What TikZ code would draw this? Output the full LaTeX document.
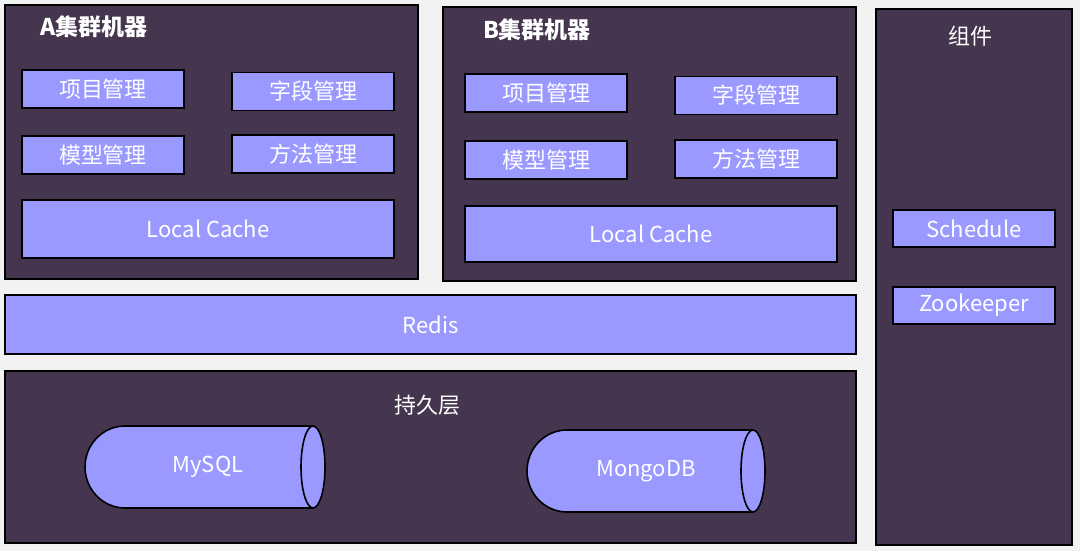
\documentclass[tikz,border=0pt]{standalone}
\usepackage{fontspec}
\setmainfont{Noto Sans CJK SC}
\definecolor{bgc}{HTML}{F2F2F2}
\definecolor{panelc}{HTML}{45354F}
\definecolor{boxc}{HTML}{9999FF}
\begin{document}
\begin{tikzpicture}[x=1pt,y=-1pt,
  panel/.style={draw=black,line width=1.2pt,fill=panelc},
  box/.style={draw=black,line width=1.8pt,fill=boxc,text=white,inner sep=0pt,font=\fontsize{22}{24}\selectfont},
  smallbox/.style={box,minimum width=162pt,minimum height=38pt},
  title/.style={text=white,font=\fontsize{23}{26}\selectfont\bfseries,inner sep=0pt},
  ptitle/.style={text=white,font=\fontsize{22}{24}\selectfont,inner sep=0pt},
  cyl/.style={draw=black,line width=1.6pt,fill=boxc},
  cyltext/.style={text=white,font=\fontsize{22}{24}\selectfont,inner sep=0pt}]
\fill[bgc] (0,0) rectangle (1080,551);
\useasboundingbox (0,0) rectangle (1080,551);
% panels
\draw[panel] (5,5) rectangle (418,279);
\draw[panel] (443,7) rectangle (856,281);
\draw[panel] (5,371) rectangle (856,543);
\draw[panel] (876,9) rectangle (1072,545);
% A
\node[title] (at) at (94,27) {A集群机器};
\node[smallbox] (a1) at (103,89) {项目管理};
\node[smallbox] (a2) at (313,91.5) {字段管理};
\node[smallbox] (a3) at (103,155) {模型管理};
\node[smallbox] (a4) at (313,154) {方法管理};
\node[box,minimum width=372pt,minimum height=58pt] (ac) at (208,229) {Local Cache};
% B
\node[title] (bt) at (537,30) {B集群机器};
\node[smallbox] (b1) at (546,93) {项目管理};
\node[smallbox] (b2) at (756,95.5) {字段管理};
\node[smallbox] (b3) at (546,160) {模型管理};
\node[smallbox] (b4) at (756,159) {方法管理};
\node[box,minimum width=372pt,minimum height=56pt] (bc) at (651,234) {Local Cache};
% Redis
\node[box,line width=1.2pt,minimum width=851pt,minimum height=59pt] (redis) at (430.5,324.5) {Redis};
% persistence
\node[ptitle] (pt) at (427,405) {持久层};
\draw[cyl] (313,426) -- (125,426) arc[start angle=-90,end angle=-270,x radius=40,y radius=41] -- (313,508);
\draw[cyl] (313,467) ellipse[x radius=12,y radius=41];
\node[cyltext] (mysql) at (208,467) {MySQL};
\draw[cyl] (753,430) -- (567,430) arc[start angle=-90,end angle=-270,x radius=40,y radius=41] -- (753,512);
\draw[cyl] (753,471) ellipse[x radius=12,y radius=41];
\node[cyltext] (mongo) at (646,471) {MongoDB};
% components
\node[ptitle] (ct) at (970,36) {组件};
\node[smallbox,minimum height=37pt] (sch) at (974,228.5) {Schedule};
\node[smallbox,minimum height=37pt] (zk) at (974,305.5) {Zookeeper};
\end{tikzpicture}
\end{document}
